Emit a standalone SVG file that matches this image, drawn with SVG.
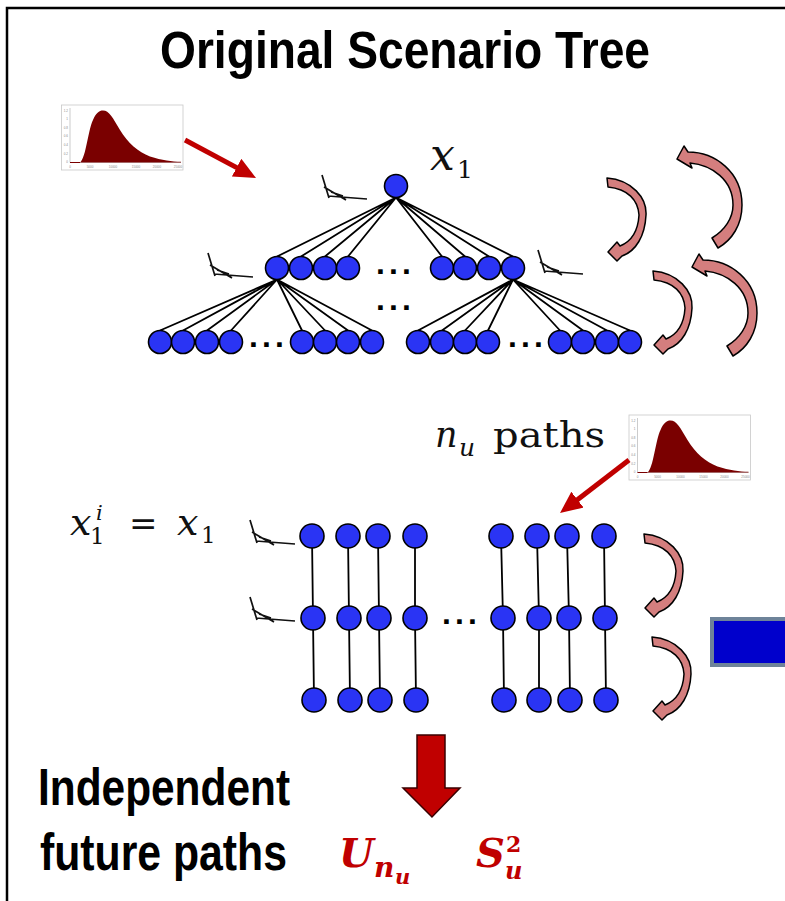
<svg xmlns="http://www.w3.org/2000/svg" xmlns:xlink="http://www.w3.org/1999/xlink" width="785" height="901" viewBox="0 0 785 901">
<style>
.n{fill:#2a34f4;stroke:#000;stroke-width:1.6}
.e{stroke:#000;stroke-width:1.8;fill:none}
.k{stroke:#111;stroke-width:1.7;fill:none}
.ca{fill:#d47e7e;stroke:#000;stroke-width:1.5;stroke-linejoin:round}
.h{font-family:"Liberation Sans",Arial,sans-serif;font-weight:bold;fill:#000}
.mi{font-family:"DejaVu Serif",serif;font-style:italic;fill:#111}
.mu{font-family:"DejaVu Serif",serif;font-style:normal;fill:#111}
.rb{font-family:"DejaVu Serif",serif;font-style:italic;font-weight:bold;fill:#c00000}
.dots{font-family:"Liberation Sans",Arial,sans-serif;font-weight:bold;font-size:32px;fill:#000}
.tk{font-family:"Liberation Sans",Arial,sans-serif;font-size:3px;fill:#888}
.ra{stroke:#c00000;stroke-width:5;fill:none}
</style>
<defs>
<marker id="rh" viewBox="0 0 22 20" refX="7" refY="10" markerWidth="22" markerHeight="20" markerUnits="userSpaceOnUse" orient="auto">
<path d="M0,0 L22,10 L0,20 Z" fill="#c00000"/>
</marker>
<g id="pdf">
<rect x="61.5" y="105" width="121.5" height="65" fill="#fff" stroke="#c8c8c8" stroke-width="0.8"/>
<path d="M70,108 V162.5 H181" stroke="#aaa" stroke-width="0.6" fill="none"/>
<path d="M80,162.5 C86,158 88,130 93,120 C96,113 99,110.5 103,110.5 C109,110.5 113,118 120,130 C128,143 138,152 150,156.5 C162,160.5 172,161.5 181,161.8 L181,162.5 Z" fill="#7a0000"/>
<path d="M70,162.5 H80" stroke="#7a0000" stroke-width="1"/>
<text class="tk" x="68" y="111.7" text-anchor="end">1.2</text>
<text class="tk" x="68" y="120.3" text-anchor="end">1</text>
<text class="tk" x="68" y="128.7" text-anchor="end">0.8</text>
<text class="tk" x="68" y="137.3" text-anchor="end">0.6</text>
<text class="tk" x="68" y="146" text-anchor="end">0.4</text>
<text class="tk" x="68" y="154.7" text-anchor="end">0.2</text>
<text class="tk" x="68" y="163.3" text-anchor="end">0</text>
<text class="tk" x="70" y="168" text-anchor="middle">0</text>
<text class="tk" x="90" y="168" text-anchor="middle">5000</text>
<text class="tk" x="113" y="168" text-anchor="middle">10000</text>
<text class="tk" x="136" y="168" text-anchor="middle">15000</text>
<text class="tk" x="157" y="168" text-anchor="middle">20000</text>
<text class="tk" x="178" y="168" text-anchor="middle">25000</text>
</g>
<g id="kink">
<path class="k" d="M0,0 L7,23 M2,12 L24,25 M6,21 L45,24 M9,17 L21,21"/>
</g>
<path id="cas" class="ca" d="M607,178 C632,180 647,198 646,215 C645,236 636,251 622,256 L617,261 L608,252 L617,242 L620,246 C630,242 638,232 639,215 C638,200 628,189 608,187 Z"/>
<path id="cab" class="ca" d="M677,159 L684,146 L688,152 C715,152 742,172 742,205 C742,225 732,240 718,248 L712,238 C725,230 733,218 733,205 C733,180 712,165 690,163 L692,168 Z"/>
</defs>

<rect x="0" y="0" width="785" height="901" fill="#fff"/>
<path d="M7,901 V8 H785" stroke="#000" stroke-width="2.5" fill="none"/>

<text class="h" x="160" y="68" font-size="51" textLength="490" lengthAdjust="spacingAndGlyphs">Original Scenario Tree</text>

<g id="pdf-top"><use xlink:href="#pdf"/></g>
<g id="pdf-mid"><use xlink:href="#pdf" transform="translate(567.5,310)"/></g>

<g id="cost-sketches">
<use xlink:href="#kink" transform="translate(322,175)"/>
<use xlink:href="#kink" transform="translate(208,253)"/>
<use xlink:href="#kink" transform="translate(538,250)"/>
<use xlink:href="#kink" transform="translate(250,520)"/>
<use xlink:href="#kink" transform="translate(250,597)"/>
</g>

<g id="connectors">
<path class="e" d="M396,197.5 L277,256.5 M396,197.5 L301,256.5 M396,197.5 L325,256.5 M396,197.5 L348,256.5 M396,197.5 L442,256.5 M396,197.5 L465,256.5 M396,197.5 L489,256.5 M396,197.5 L513,256.5"/>
<path class="e" d="M277,279.5 L160,330.5 M277,279.5 L183,330.5 M277,279.5 L207,330.5 M277,279.5 L231,330.5 M277,279.5 L302,330.5 M277,279.5 L325,330.5 M277,279.5 L348,330.5 M277,279.5 L372,330.5"/>
<path class="e" d="M513,279.5 L418,330.5 M513,279.5 L442,330.5 M513,279.5 L465,330.5 M513,279.5 L488,330.5 M513,279.5 L560,330.5 M513,279.5 L583,330.5 M513,279.5 L607,330.5 M513,279.5 L630,330.5"/>
<path class="e" d="M312,536 L313,618 L314,700 M348,536 L349,618 L350,700 M378,536 L379,618 L380,700 M415,536 L415,618 L416,700 M501,536 L503,618 L504,700 M537,536 L539,618 L539,700 M567,536 L569,618 L570,700 M604,536 L605,618 L606,700"/>
<line class="ra" x1="185" y1="140" x2="242.8" y2="170.9" marker-end="url(#rh)"/>
<line class="ra" x1="629" y1="460" x2="571.9" y2="503.9" marker-end="url(#rh)"/>
</g>

<g id="tree-nodes">
<g id="root"><circle class="n" cx="396" cy="186" r="11.5"/></g>
<g id="l2-1"><circle class="n" cx="277" cy="268" r="11.5"/></g>
<g id="l2-2"><circle class="n" cx="301" cy="268" r="11.5"/></g>
<g id="l2-3"><circle class="n" cx="325" cy="268" r="11.5"/></g>
<g id="l2-4"><circle class="n" cx="348" cy="268" r="11.5"/></g>
<g id="l2-5"><circle class="n" cx="442" cy="268" r="11.5"/></g>
<g id="l2-6"><circle class="n" cx="465" cy="268" r="11.5"/></g>
<g id="l2-7"><circle class="n" cx="489" cy="268" r="11.5"/></g>
<g id="l2-8"><circle class="n" cx="513" cy="268" r="11.5"/></g>
<g id="l3-1"><circle class="n" cx="160" cy="342" r="11.5"/></g>
<g id="l3-2"><circle class="n" cx="183" cy="342" r="11.5"/></g>
<g id="l3-3"><circle class="n" cx="207" cy="342" r="11.5"/></g>
<g id="l3-4"><circle class="n" cx="231" cy="342" r="11.5"/></g>
<g id="l3-5"><circle class="n" cx="302" cy="342" r="11.5"/></g>
<g id="l3-6"><circle class="n" cx="325" cy="342" r="11.5"/></g>
<g id="l3-7"><circle class="n" cx="348" cy="342" r="11.5"/></g>
<g id="l3-8"><circle class="n" cx="372" cy="342" r="11.5"/></g>
<g id="l3-9"><circle class="n" cx="418" cy="342" r="11.5"/></g>
<g id="l3-10"><circle class="n" cx="442" cy="342" r="11.5"/></g>
<g id="l3-11"><circle class="n" cx="465" cy="342" r="11.5"/></g>
<g id="l3-12"><circle class="n" cx="488" cy="342" r="11.5"/></g>
<g id="l3-13"><circle class="n" cx="560" cy="342" r="11.5"/></g>
<g id="l3-14"><circle class="n" cx="583" cy="342" r="11.5"/></g>
<g id="l3-15"><circle class="n" cx="607" cy="342" r="11.5"/></g>
<g id="l3-16"><circle class="n" cx="630" cy="342" r="11.5"/></g>
</g>

<g id="path-nodes">
<g id="p1-1"><circle class="n" cx="312" cy="536" r="12"/></g>
<g id="p1-2"><circle class="n" cx="348" cy="536" r="12"/></g>
<g id="p1-3"><circle class="n" cx="378" cy="536" r="12"/></g>
<g id="p1-4"><circle class="n" cx="415" cy="536" r="12"/></g>
<g id="p1-5"><circle class="n" cx="501" cy="536" r="12"/></g>
<g id="p1-6"><circle class="n" cx="537" cy="536" r="12"/></g>
<g id="p1-7"><circle class="n" cx="567" cy="536" r="12"/></g>
<g id="p1-8"><circle class="n" cx="604" cy="536" r="12"/></g>
<g id="p2-1"><circle class="n" cx="313" cy="618" r="12"/></g>
<g id="p2-2"><circle class="n" cx="349" cy="618" r="12"/></g>
<g id="p2-3"><circle class="n" cx="379" cy="618" r="12"/></g>
<g id="p2-4"><circle class="n" cx="415" cy="618" r="12"/></g>
<g id="p2-5"><circle class="n" cx="503" cy="618" r="12"/></g>
<g id="p2-6"><circle class="n" cx="539" cy="618" r="12"/></g>
<g id="p2-7"><circle class="n" cx="569" cy="618" r="12"/></g>
<g id="p2-8"><circle class="n" cx="605" cy="618" r="12"/></g>
<g id="p3-1"><circle class="n" cx="314" cy="700" r="12"/></g>
<g id="p3-2"><circle class="n" cx="350" cy="700" r="12"/></g>
<g id="p3-3"><circle class="n" cx="380" cy="700" r="12"/></g>
<g id="p3-4"><circle class="n" cx="416" cy="700" r="12"/></g>
<g id="p3-5"><circle class="n" cx="504" cy="700" r="12"/></g>
<g id="p3-6"><circle class="n" cx="539" cy="700" r="12"/></g>
<g id="p3-7"><circle class="n" cx="570" cy="700" r="12"/></g>
<g id="p3-8"><circle class="n" cx="606" cy="700" r="12"/></g>
</g>

<g id="ellipses">
<text class="dots" x="376" y="274" textLength="35">...</text>
<text class="dots" x="376" y="310" textLength="35">...</text>
<text class="dots" x="249" y="347" textLength="35">...</text>
<text class="dots" x="508" y="347" textLength="35">...</text>
<text class="dots" x="442" y="624" textLength="35">...</text>
</g>

<g id="curved-arrows">
<use xlink:href="#cas"/>
<use xlink:href="#cas" transform="translate(46,93)"/>
<use xlink:href="#cab"/>
<use xlink:href="#cab" transform="translate(15,108)"/>
<use xlink:href="#cas" transform="translate(37,356)"/>
<use xlink:href="#cas" transform="translate(45,459)"/>
</g>

<g id="blue-box"><rect x="712" y="619" width="80" height="46" fill="#0000cc" stroke="#6e8399" stroke-width="4"/></g>

<g id="labels">
<text class="mi" font-size="44"><tspan x="430" y="170">x</tspan><tspan class="mu" x="457" y="178" font-size="25">1</tspan></text>
<text class="mi" font-size="35"><tspan x="435" y="447">n</tspan><tspan x="459" y="456" font-size="25">u</tspan><tspan class="mu" x="493" y="447" font-size="36" textLength="112" lengthAdjust="spacingAndGlyphs">paths</tspan></text>
<text class="mi" font-size="38"><tspan x="70" y="535">x</tspan><tspan class="mu" x="90" y="544" font-size="23">1</tspan><tspan x="96" y="520" font-size="21">i</tspan><tspan class="mu" x="129" y="535" font-size="34">=</tspan><tspan x="177" y="535">x</tspan><tspan class="mu" x="201" y="543" font-size="23">1</tspan></text>
</g>

<g id="down-arrow"><path d="M417,735 H445 V788 H460 L432,817 L403,788 H417 Z" fill="#c00000" stroke="#3a0000" stroke-width="1.5"/></g>

<g id="bottom-text">
<text class="h" x="38" y="805" font-size="52" textLength="252" lengthAdjust="spacingAndGlyphs">Independent</text>
<text class="h" x="40" y="870" font-size="52" textLength="247" lengthAdjust="spacingAndGlyphs">future paths</text>
<text class="rb" font-size="40"><tspan x="339" y="867">U</tspan><tspan x="374" y="877" font-size="28">n</tspan><tspan x="395" y="884" font-size="21">u</tspan><tspan x="476" y="867">S</tspan><tspan x="506" y="852" font-size="22" font-style="normal">2</tspan><tspan x="505" y="879" font-size="24">u</tspan></text>
</g>
</svg>
